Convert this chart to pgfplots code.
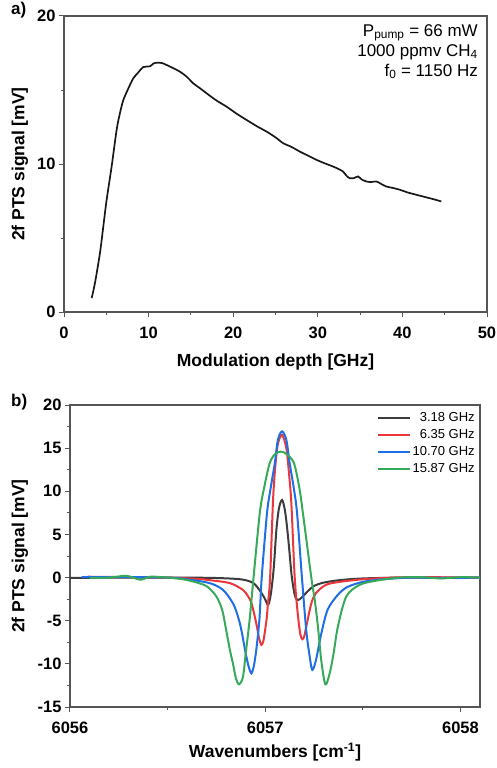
\documentclass[border=0pt]{standalone}
\usepackage{fontspec}
\setmainfont{Liberation Sans}
\usepackage{pgfplots}
\pgfplotsset{compat=1.18}
\definecolor{cblack}{RGB}{60,60,60}
\definecolor{cred}{RGB}{235,55,60}
\definecolor{cblue}{RGB}{30,110,230}
\definecolor{cgreen}{RGB}{55,170,90}
\definecolor{frame}{RGB}{85,85,85}
\pgfplotsset{mystyle/.style={
  scale only axis, tick align=outside, tick pos=left,
  axis line style={frame, line width=1.2pt},
  major tick length=5pt, minor tick length=3pt,
  every tick/.style={frame, line width=1pt},
  /pgf/number format/assume math mode=true,
  /pgf/number format/set thousands separator={},
  scaled ticks=false,
  ticklabel style={font=\bfseries\fontsize{16.5}{18}\selectfont},
  xticklabel style={yshift=-6pt},
  label style={font=\bfseries\fontsize{17.5}{20}\selectfont},
}}
\begin{document}
\begin{tikzpicture}
\useasboundingbox (0,0) rectangle (496pt,-768pt);
\begin{axis}[mystyle, at={(64pt,-16pt)}, anchor=north west, width=423pt, height=296pt,
  xmin=0, xmax=50, ymin=0, ymax=20,
  xtick={0,10,...,50}, ytick={0,10,20},
  minor x tick num=1, minor y tick num=1,
  xlabel={Modulation depth [GHz]}, ylabel={2f PTS signal [mV]},
  xlabel style={at={(axis description cs:0.5,-0.169)}, anchor=center},
  ylabel style={at={(axis description cs:-0.104,0.5)}, anchor=center}]
\addplot[smooth, line width=1.7pt, black!90] coordinates {
(3.27,0.94) (3.66,1.96) (4.25,3.98) (4.65,5.8) (5.04,7.58) (5.63,9.83) (6.22,12.3) (6.6,13.4) (7.0,14.3)
(7.6,15.1) (8.19,15.79) (8.8,16.2) (9.37,16.55) (10.16,16.6) (10.6,16.8) (11.14,16.85) (11.6,16.82)
(12.13,16.69) (13.0,16.45) (13.7,16.24) (14.5,15.9) (15.28,15.45) (16.0,15.15) (16.85,14.78) (18.0,14.3)
(19.2,13.88) (20.4,13.4) (21.57,12.98) (22.8,12.55) (23.94,12.19) (25.0,11.8) (25.9,11.41) (26.9,11.15)
(27.87,10.84) (28.9,10.55) (29.84,10.28) (30.8,10.05) (31.8,9.83) (32.5,9.65) (32.99,9.49) (33.4,9.2)
(33.78,9.04) (34.3,9.05) (34.76,9.16) (35.2,8.95) (35.75,8.82) (36.3,8.78) (36.93,8.82) (37.5,8.65)
(38.1,8.48) (38.9,8.38) (39.7,8.26) (40.6,8.08) (41.65,7.92) (42.6,7.78) (43.62,7.63) (44.6,7.47)};
\end{axis}
\begin{axis}[mystyle, at={(70pt,-405pt)}, anchor=north west, width=410pt, height=302pt,
  xmin=6056, xmax=6058.1, ymin=-15, ymax=20,
  xtick={6056,6057,6058}, ytick={-15,-10,...,20},
  minor x tick num=1, minor y tick num=1,
  xlabel={Wavenumbers [cm\textsuperscript{-1}]}, ylabel={2f PTS signal [mV]},
  xlabel style={at={(axis description cs:0.5,-0.149)}, anchor=center},
  ylabel style={at={(axis description cs:-0.122,0.5)}, anchor=center},
  legend style={at={(axis description cs:0.995,0.99)}, anchor=north east, draw=none, fill=none,
    font=\fontsize{13}{15}\selectfont, row sep=0pt, inner sep=1pt,
    nodes={text height=10pt, text depth=3pt}},
  legend cell align=right,
  legend image post style={xscale=1.85, line width=2pt}]
\addplot[smooth, line width=2pt, cblack] coordinates {
(6056.00,-0.05) (6056.2,0.0) (6056.4,0.0) (6056.6,0.0) (6056.75,-0.05) (6056.85,-0.15) (6056.9,-0.3)
(6056.94,-0.65) (6056.97,-1.43) (6056.997,-2.4) (6057.014,-3.17) (6057.025,-2.4) (6057.035,-0.8)
(6057.045,1.5) (6057.057,5.5) (6057.07,8.0) (6057.086,9.0) (6057.10,7.9) (6057.111,6.0) (6057.122,3.5)
(6057.134,0.5) (6057.145,-1.3) (6057.155,-2.3) (6057.168,-2.6) (6057.185,-2.35) (6057.20,-2.0)
(6057.245,-1.04) (6057.296,-0.6) (6057.38,-0.3) (6057.5,-0.1) (6057.7,0) (6057.9,0) (6058.1,0)};
\addlegendentry{3.18 GHz}
\addplot[smooth, line width=2pt, cred] coordinates {
(6056.09,0.1) (6056.3,0.05) (6056.5,0.0) (6056.65,-0.15) (6056.716,-0.3) (6056.82,-0.65) (6056.886,-1.43)
(6056.91,-2.1) (6056.93,-3.0) (6056.954,-5.3) (6056.968,-7.0) (6056.98,-7.8) (6056.99,-7.4)
(6056.997,-6.45) (6057.007,-4.8) (6057.014,-3.0) (6057.025,0) (6057.04,9) (6057.052,13) (6057.065,15.5)
(6057.086,16.55) (6057.108,15.0) (6057.122,12.0) (6057.134,8.5) (6057.151,0) (6057.168,-4.5)
(6057.18,-6.6) (6057.19,-7.15) (6057.2,-6.8) (6057.21,-5.7) (6057.236,-3.0) (6057.26,-1.8)
(6057.31,-0.85) (6057.38,-0.5) (6057.5,-0.2) (6057.65,0) (6057.8,0.05) (6058.1,0)};
\addlegendentry{6.35 GHz}
\addplot[smooth, line width=2pt, cblue] coordinates {
(6056.06,0.05) (6056.3,0.05) (6056.5,0.0) (6056.6,-0.2) (6056.716,-0.65) (6056.784,-1.43) (6056.835,-3.0)
(6056.86,-4.5) (6056.878,-6.1) (6056.9,-8.8) (6056.915,-10.3) (6056.929,-11.1) (6056.942,-10.2)
(6056.954,-8.4) (6056.97,-4.9) (6056.982,0) (6057.009,7.47) (6057.028,10.4) (6057.049,13.27)
(6057.065,15.97) (6057.086,16.94) (6057.108,15.97) (6057.125,13.27) (6057.146,10.4) (6057.163,7.47)
(6057.188,0) (6057.21,-6.1) (6057.228,-9.2) (6057.241,-10.7) (6057.26,-9.55) (6057.287,-6.5)
(6057.32,-3.7) (6057.372,-2.0) (6057.42,-1.1) (6057.5,-0.5) (6057.6,-0.2) (6057.75,0) (6057.9,-0.05) (6058.1,0)};
\addlegendentry{10.70 GHz}
\addplot[smooth, line width=2pt, cgreen] coordinates {
(6056.1,-0.05) (6056.2,0.0) (6056.29,0.2) (6056.36,-0.25) (6056.41,0.1) (6056.5,0.0) (6056.58,-0.2)
(6056.63,-0.45) (6056.70,-1.0) (6056.75,-2.2) (6056.78,-3.8) (6056.8,-6.1) (6056.82,-8.5) (6056.835,-10)
(6056.85,-11.7) (6056.866,-12.37) (6056.886,-11.5) (6056.9,-8.8) (6056.92,-4.9) (6056.938,-0.5)
(6056.972,7.47) (6056.994,10.37) (6057.023,13.27) (6057.05,14.3) (6057.08,14.6) (6057.11,14.3)
(6057.147,13.27) (6057.175,10.37) (6057.193,7.47) (6057.236,0) (6057.253,-2.5) (6057.27,-5.7)
(6057.287,-9.6) (6057.308,-12.37) (6057.33,-11.1) (6057.35,-8.8) (6057.372,-5.7) (6057.415,-2.2)
(6057.483,-0.85) (6057.57,-0.35) (6057.69,0) (6057.8,0.05) (6057.9,-0.1) (6058.0,0.05) (6058.1,0)};
\addlegendentry{15.87 GHz}
\end{axis}
\node[anchor=north east, align=right, inner sep=0pt, font=\fontsize{17}{20}\selectfont] at (478pt,-24pt)
  {P\textsubscript{pump} = 66 mW\\1000 ppmv CH\textsubscript{4}\\f\textsubscript{0} = 1150 Hz};
\node[anchor=west, inner sep=0pt, font=\bfseries\fontsize{17}{20}\selectfont] at (11pt,-10pt) {a)};
\node[anchor=west, inner sep=0pt, font=\bfseries\fontsize{17}{20}\selectfont] at (11pt,-402pt) {b)};
\end{tikzpicture}
\end{document}
